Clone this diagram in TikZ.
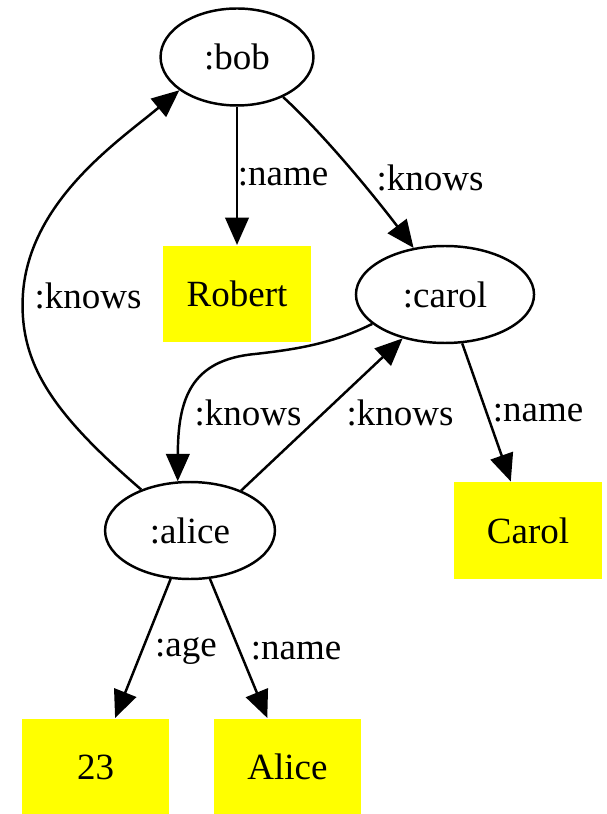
\documentclass[tikz,border=0pt]{standalone}
\usepackage{fontspec}
\setmainfont{Liberation Serif}
\usetikzlibrary{shapes.geometric,arrows.meta}

\definecolor{litfill}{RGB}{255,255,0}

\tikzset{
  resource/.style={ellipse, draw=black, line width=0.9pt, fill=white,
    inner sep=0pt, minimum height=35.4pt, font=\fontsize{13.5}{16}\selectfont},
  literal/.style={rectangle, fill=litfill, draw=none, inner sep=0pt,
    minimum width=54pt, minimum height=35.4pt, font=\fontsize{13.5}{16}\selectfont},
  prop/.style={inner sep=0pt, font=\fontsize{13.5}{16}\selectfont},
  rel/.style={line width=0.9pt, -{Triangle[length=10pt,width=8.6pt]}}
}

\begin{document}
\begin{tikzpicture}[x=0.365pt,y=-0.365pt]
  \useasboundingbox (0,0) rectangle (606,814);

  % resources
  \node[resource, minimum width=55.8pt] (bob)   at (237,57)    {:bob};
  \node[resource, minimum width=65pt]   (carol) at (445,294.5) {:carol};
  \node[resource, minimum width=62pt]   (alice) at (190,530.5) {:alice};

  % literal values
  \node[literal] (robert)   at (237,294)   {Robert};
  \node[literal] (carolLit) at (528,530.5) {Carol};
  \node[literal] (age)      at (95.5,767)  {23};
  \node[literal] (aliceLit) at (287.5,767) {Alice};

  % properties
  \draw[rel] (bob) -- (robert);
  \draw[rel] (bob.319) .. controls (330,140) and (385,210) .. (carol.124);
  \draw[rel] (alice.140) .. controls (55,415) and (18,365) .. (23,293)
                         .. controls (30,200) and (120,140) .. (bob.210);
  \draw[rel] (carol.202.8) .. controls (330,345) and (290,350) .. (255,354)
                           .. controls (190,360) and (178,400) .. (alice.104);
  \draw[rel] (alice.38.7) -- (carol.226);
  \draw[rel] (carol) -- (carolLit);
  \draw[rel] (alice) -- (age);
  \draw[rel] (alice) -- (aliceLit);

  % property labels
  \node[prop] (l1) at (283,177) {:name};
  \node[prop] (l2) at (430,178) {:knows};
  \node[prop] (l3) at (88,296)  {:knows};
  \node[prop] (l4) at (248,413) {:knows};
  \node[prop] (l5) at (400,413) {:knows};
  \node[prop] (l6) at (538,413) {:name};
  \node[prop] (l7) at (186,651) {:age};
  \node[prop] (l8) at (296,651) {:name};
\end{tikzpicture}
\end{document}
